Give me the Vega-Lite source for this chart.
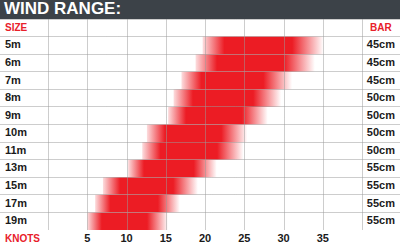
{
  "$schema": "https://vega.github.io/schema/vega-lite/v6.json",
  "padding": 0,
  "spacing": 0,
  "background": "#3c4248",
  "config": {"view": {"stroke": null, "fill": "white"}, "concat": {"spacing": 0}},
  "title": {
    "text": "WIND RANGE:",
    "anchor": "start",
    "frame": "group",
    "font": "Liberation Sans",
    "fontWeight": "bold",
    "fontSize": 17,
    "color": "white",
    "offset": 3,
    "dy": 2,
    "dx": 4
  },
  "datasets": {
    "rows": [
      {"size": "5m", "bar": "45cm", "lo": 19.7, "hi": 35.1},
      {"size": "6m", "bar": "45cm", "lo": 18.8, "hi": 34},
      {"size": "7m", "bar": "45cm", "lo": 17, "hi": 31.1},
      {"size": "8m", "bar": "50cm", "lo": 16, "hi": 29.7},
      {"size": "9m", "bar": "50cm", "lo": 15.3, "hi": 28},
      {"size": "10m", "bar": "50cm", "lo": 12.6, "hi": 25.4},
      {"size": "11m", "bar": "50cm", "lo": 12, "hi": 24.9},
      {"size": "13m", "bar": "55cm", "lo": 10.2, "hi": 21.5},
      {"size": "15m", "bar": "55cm", "lo": 7, "hi": 19.1},
      {"size": "17m", "bar": "55cm", "lo": 6, "hi": 16.8},
      {"size": "19m", "bar": "55cm", "lo": 5, "hi": 15.3}
    ],
    "knots": [{"k": 5}, {"k": 10}, {"k": 15}, {"k": 20}, {"k": 25}, {"k": 30}, {"k": 35}]
  },
  "vconcat": [
    {
      "width": 400,
      "height": 211,
      "layer": [
        {
          "data": {"name": "rows"},
          "mark": {
            "type": "rect",
            "fill": {
              "gradient": "linear",
              "x1": 0, "x2": 1, "y1": 0, "y2": 0,
              "stops": [
                {"offset": 0, "color": "rgba(236,28,36,0.15)"},
                {"offset": 0.18, "color": "#ec1c24"},
                {"offset": 0.74, "color": "#ec1c24"},
                {"offset": 1, "color": "rgba(236,28,36,0)"}
              ]
            }
          },
          "encoding": {
            "x": {
              "field": "lo",
              "type": "quantitative",
              "title": null,
              "scale": {"domain": [-6.115, 44.84], "nice": false, "zero": false},
              "axis": {
                "values": [0, 5, 10, 15, 20, 25, 30, 35, 40],
                "grid": true,
                "labels": false,
                "ticks": false,
                "domain": true,
                "domainDash": [1, 1],
                "domainColor": "#9a9a9a",
                "domainWidth": 1,
                "title": null,
                "gridDash": [1, 1],
                "gridColor": "#9a9a9a",
                "gridWidth": 1,
                "zindex": 1
              }
            },
            "x2": {"field": "hi"},
            "y": {
              "field": "size",
              "type": "nominal",
              "title": null,
              "scale": {
                "domain": ["SIZE", "5m", "6m", "7m", "8m", "9m", "10m", "11m", "13m", "15m", "17m", "19m"],
                "paddingInner": 0,
                "paddingOuter": 0
              },
              "axis": {
                "bandPosition": 0,
                "grid": true,
                "labels": false,
                "ticks": false,
                "domain": false,
                "title": null,
                "gridDash": [1, 1],
                "gridColor": "#9a9a9a",
                "gridWidth": 1,
                "zindex": 1
              }
            }
          }
        },
        {
          "data": {"name": "rows"},
          "mark": {"type": "text", "align": "left", "baseline": "middle", "font": "Liberation Sans", "fontWeight": "bold", "fontSize": 11, "color": "#1a1a1a"},
          "encoding": {
            "x": {"datum": -5.48, "type": "quantitative", "title": null},
            "y": {"field": "size", "type": "nominal", "title": null},
            "text": {"field": "size"}
          }
        },
        {
          "data": {"name": "rows"},
          "mark": {"type": "text", "align": "center", "baseline": "middle", "font": "Liberation Sans", "fontWeight": "bold", "fontSize": 11, "color": "#1a1a1a"},
          "encoding": {
            "x": {"datum": 42.4, "type": "quantitative", "title": null},
            "y": {"field": "size", "type": "nominal", "title": null},
            "text": {"field": "bar"}
          }
        },
        {
          "data": {"values": [{}]},
          "mark": {"type": "text", "align": "left", "baseline": "middle", "font": "Liberation Sans", "fontWeight": "bold", "fontSize": 10, "color": "#e8202a"},
          "encoding": {
            "x": {"datum": -5.48, "type": "quantitative", "title": null},
            "y": {"datum": "SIZE", "type": "nominal", "title": null},
            "text": {"value": "SIZE"}
          }
        },
        {
          "data": {"values": [{}]},
          "mark": {"type": "text", "align": "center", "baseline": "middle", "font": "Liberation Sans", "fontWeight": "bold", "fontSize": 10, "color": "#e8202a"},
          "encoding": {
            "x": {"datum": 42.4, "type": "quantitative", "title": null},
            "y": {"datum": "SIZE", "type": "nominal", "title": null},
            "text": {"value": "BAR"}
          }
        }
      ]
    },
    {
      "width": 400,
      "height": 18,
      "layer": [
        {
          "data": {"name": "knots"},
          "mark": {"type": "text", "align": "center", "baseline": "middle", "font": "Liberation Sans", "fontWeight": "bold", "fontSize": 11, "color": "#1a1a1a"},
          "encoding": {
            "x": {
              "field": "k",
              "type": "quantitative",
              "title": null,
              "scale": {"domain": [-6.115, 44.84], "nice": false, "zero": false},
              "axis": {
                "values": [0, 40],
                "grid": false,
                "labels": false,
                "ticks": false,
                "domain": true,
                "domainDash": [1, 1],
                "domainColor": "#9a9a9a",
                "domainWidth": 1,
                "title": null
              }
            },
            "text": {"field": "k"}
          }
        },
        {
          "data": {"values": [{}]},
          "mark": {"type": "text", "align": "left", "baseline": "middle", "font": "Liberation Sans", "fontWeight": "bold", "fontSize": 10, "color": "#e8202a"},
          "encoding": {
            "x": {"datum": -5.48, "type": "quantitative", "title": null},
            "text": {"value": "KNOTS"}
          }
        }
      ]
    }
  ]
}
